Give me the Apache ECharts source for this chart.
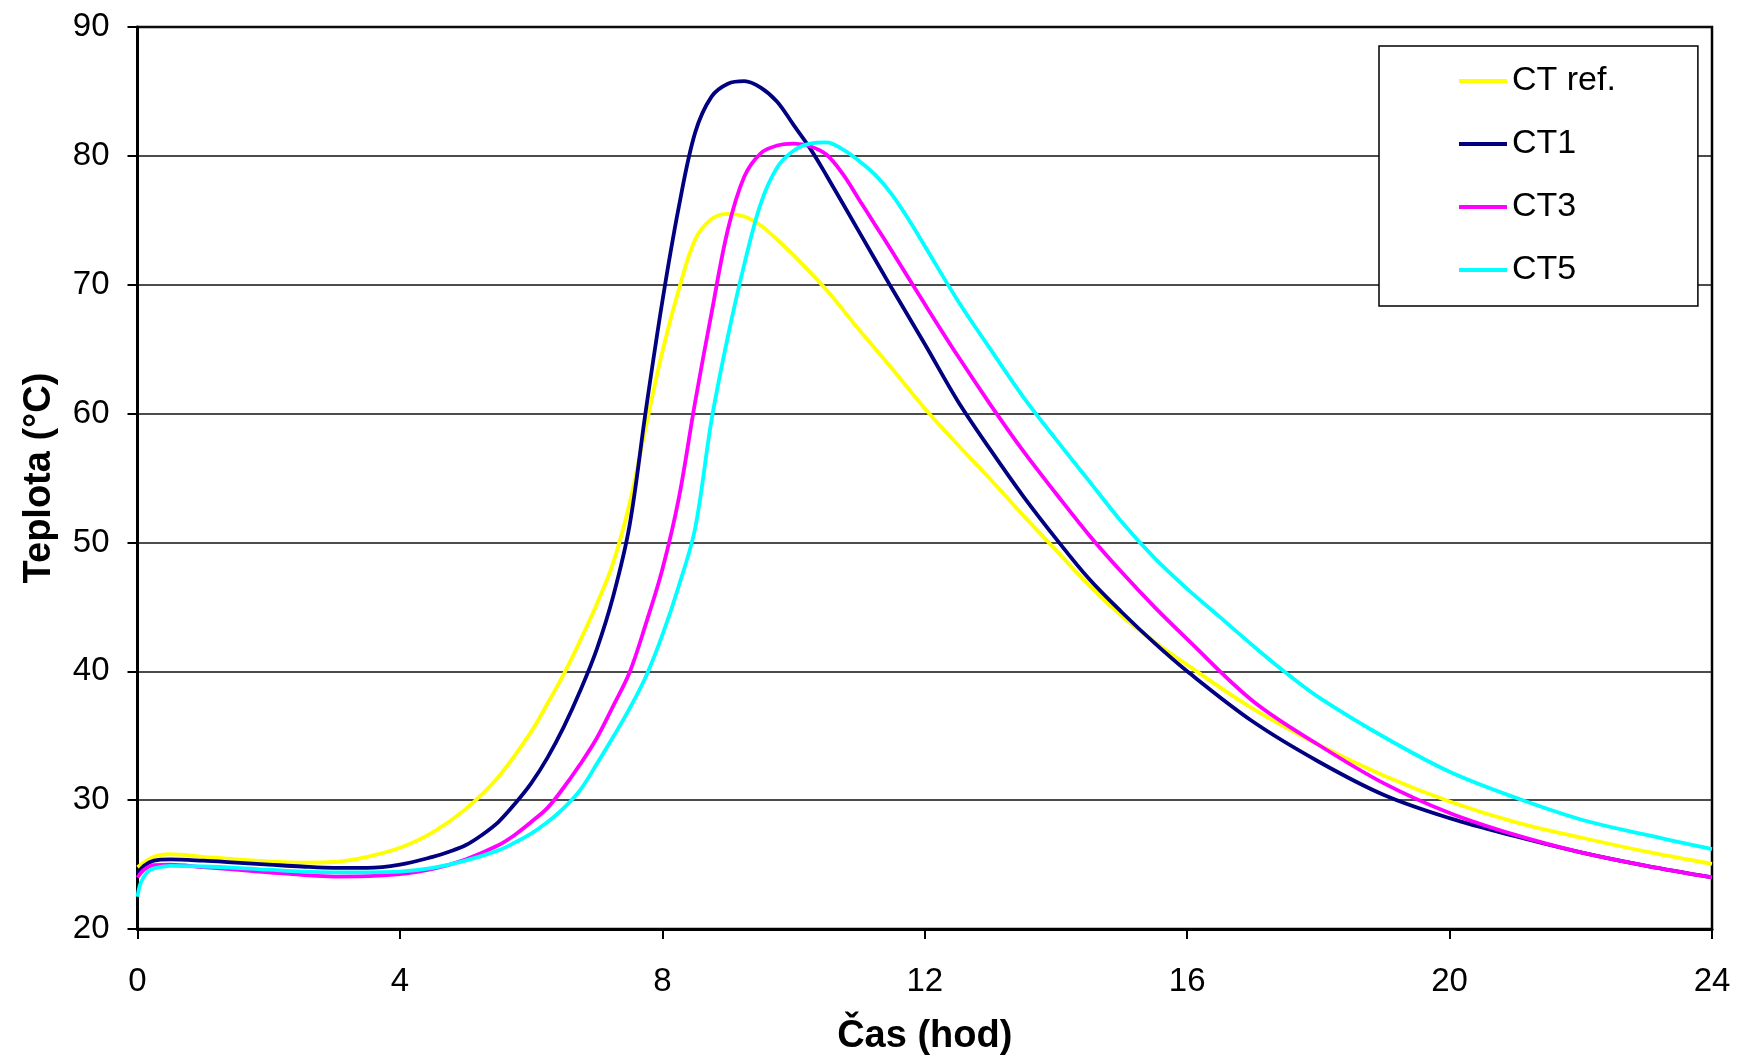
<!DOCTYPE html>
<html>
<head>
<meta charset="utf-8">
<script src="https://cdn.jsdelivr.net/npm/echarts@6/dist/echarts.min.js"></script>
<style>
html,body{margin:0;padding:0;background:#fff;}
#chart{width:1740px;height:1061px;}
</style>
</head>
<body>
<div id="chart"></div>
<script>
// Categories / series names
const seriesNames = ['CT ref.', 'CT1', 'CT3', 'CT5'];
const xTicks = [0, 4, 8, 12, 16, 20, 24];
const yTicks = [20, 30, 40, 50, 60, 70, 80, 90];

// CT ref. (yellow)
const ctRefTime = [0, 0.25, 0.5, 1, 1.5, 2, 2.5, 3, 3.5, 4, 4.5, 5, 5.5, 6, 6.25, 6.5, 6.75, 7, 7.25, 7.5, 7.75, 8, 8.25, 8.5, 8.75, 9, 9.25, 9.5, 9.75, 10, 10.5, 11, 11.5, 12, 12.5, 13, 13.5, 14, 14.5, 15, 15.5, 16, 17, 18, 19, 20, 21, 22, 23, 24];
const ctRefTemp = [24.8, 25.6, 25.8, 25.6, 25.4, 25.25, 25.15, 25.2, 25.6, 26.3, 27.5, 29.3, 31.8, 35.3, 37.5, 39.8, 42.4, 45.2, 48.4, 53.0, 59.0, 64.8, 69.6, 73.5, 75.1, 75.5, 75.3, 74.6, 73.5, 72.3, 69.6, 66.5, 63.5, 60.4, 57.6, 54.9, 52.1, 49.4, 46.7, 44.3, 42.3, 40.5, 37.1, 34.3, 31.9, 29.9, 28.3, 27.1, 26.0, 25.05];

// CT1 (navy)
const ct1Time = [0, 0.1, 0.25, 0.5, 1, 1.5, 2, 2.5, 3, 3.5, 4, 4.5, 4.75, 5, 5.25, 5.5, 5.75, 6, 6.25, 6.5, 6.75, 7, 7.25, 7.5, 7.75, 8, 8.25, 8.5, 8.75, 9, 9.25, 9.5, 9.75, 10, 10.25, 10.5, 11, 11.5, 12, 12.5, 13, 13.5, 14, 14.5, 15, 15.5, 16, 17, 18, 19, 20, 21, 22, 23, 24];
const ct1Temp = [24.3, 24.9, 25.3, 25.4, 25.3, 25.15, 25.0, 24.85, 24.75, 24.75, 25.0, 25.6, 26.0, 26.5, 27.3, 28.3, 29.7, 31.3, 33.3, 35.7, 38.5, 41.7, 45.8, 51.3, 60.3, 68.7, 76.0, 81.8, 84.6, 85.6, 85.8, 85.3, 84.2, 82.4, 80.6, 78.5, 74.1, 69.7, 65.4, 61.0, 57.2, 53.6, 50.3, 47.2, 44.6, 42.2, 40.0, 36.1, 33.0, 30.4, 28.6, 27.2, 25.95, 24.9, 24.0];

// CT3 (magenta)
const ct3Time = [0, 0.1, 0.25, 0.5, 1, 1.5, 2, 2.5, 3, 3.5, 4, 4.5, 5, 5.5, 5.75, 6, 6.25, 6.5, 6.75, 7, 7.25, 7.5, 7.75, 8, 8.25, 8.5, 8.75, 9, 9.25, 9.5, 9.75, 10, 10.25, 10.5, 10.75, 11, 11.25, 11.5, 12, 12.5, 13, 13.5, 14, 14.5, 15, 15.5, 16, 17, 18, 19, 20, 21, 22, 23, 24];
const ct3Temp = [24.0, 24.6, 24.95, 25.0, 24.8, 24.6, 24.4, 24.2, 24.07, 24.1, 24.25, 24.66, 25.4, 26.5, 27.3, 28.3, 29.4, 31.0, 32.8, 34.8, 37.3, 39.9, 43.7, 47.9, 53.4, 60.9, 67.8, 74.3, 78.4, 80.2, 80.8, 80.95, 80.75, 80.1, 78.6, 76.6, 74.6, 72.6, 68.5, 64.5, 60.7, 57.1, 53.8, 50.6, 47.7, 45.0, 42.5, 37.7, 34.3, 31.3, 29.0, 27.3, 25.95, 24.9, 24.0];

// CT5 (cyan)
const ct5Time = [0, 0.05, 0.15, 0.25, 0.5, 1, 1.5, 2, 2.5, 3, 3.5, 4, 4.5, 5, 5.5, 5.75, 6, 6.25, 6.5, 6.75, 7, 7.25, 7.5, 7.75, 8, 8.25, 8.5, 8.75, 9, 9.25, 9.5, 9.75, 10, 10.25, 10.5, 10.75, 11, 11.25, 11.5, 11.75, 12, 12.5, 13, 13.5, 14, 14.5, 15, 15.5, 16, 16.5, 17, 17.5, 18, 19, 20, 21, 22, 23, 24];
const ct5Temp = [22.5, 23.6, 24.4, 24.7, 24.9, 24.85, 24.75, 24.6, 24.45, 24.4, 24.4, 24.45, 24.74, 25.3, 26.1, 26.7, 27.4, 28.3, 29.4, 30.8, 32.8, 34.9, 37.1, 39.6, 42.8, 46.6, 51.1, 59.5, 66.0, 71.6, 76.3, 79.1, 80.4, 80.95, 81.05, 80.5, 79.6, 78.5, 77.0, 75.1, 73.0, 68.8, 65.0, 61.3, 58.0, 54.8, 51.6, 48.8, 46.4, 44.2, 42.0, 39.9, 38.0, 34.9, 32.2, 30.2, 28.5, 27.3, 26.2];

const seriesColors = ['#FFFF00', '#000080', '#FF00FF', '#00FFFF'];

function pairs(ts, vs) { return ts.map((t, i) => [t, vs[i]]); }
const allData = [
  pairs(ctRefTime, ctRefTemp),
  pairs(ct1Time, ct1Temp),
  pairs(ct3Time, ct3Temp),
  pairs(ct5Time, ct5Temp)
];

const FONT = '"Liberation Sans", Arial, sans-serif';
const chart = echarts.init(document.getElementById('chart'), null, {renderer: 'canvas'});
chart.setOption({
  animation: false,
  backgroundColor: '#ffffff',
  grid: {
    left: 137.5, right: 28, top: 27, bottom: 129,
    show: true, borderColor: '#000', borderWidth: 2.5, backgroundColor: 'transparent'
  },
  legend: {
    orient: 'vertical',
    left: 1379, top: 46,
    padding: [18, 82, 19, 80],
    itemGap: 29,
    itemWidth: 48, itemHeight: 4,
    icon: 'rect',
    borderColor: '#000', borderWidth: 1.5,
    backgroundColor: '#fff',
    textStyle: {fontFamily: FONT, fontSize: 34, color: '#000', padding: [0, 0, 0, 0]},
    data: seriesNames
  },
  xAxis: {
    type: 'value', min: 0, max: 24, interval: 4,
    name: 'Čas (hod)', nameLocation: 'middle', nameGap: 89,
    nameTextStyle: {fontFamily: FONT, fontSize: 38, fontWeight: 'bold', color: '#000'},
    axisLine: {show: true, onZero: false, lineStyle: {color: '#000', width: 3}},
    axisTick: {show: true, length: 10, lineStyle: {color: '#000', width: 2}},
    axisLabel: {fontFamily: FONT, fontSize: 33, color: '#000', margin: 36,
      formatter: v => xTicks.includes(v) ? String(v) : ''},
    splitLine: {show: false}
  },
  yAxis: {
    type: 'value', min: 20, max: 90, interval: 10,
    name: 'Teplota (°C)', nameLocation: 'middle', nameGap: 79,
    nameTextStyle: {fontFamily: FONT, fontSize: 38, fontWeight: 'bold', color: '#000'},
    axisLine: {show: true, onZero: false, lineStyle: {color: '#000', width: 3}},
    axisTick: {show: true, length: 10, lineStyle: {color: '#000', width: 2}},
    axisLabel: {fontFamily: FONT, fontSize: 33, color: '#000', margin: 28,
      formatter: v => yTicks.includes(v) ? String(v) : ''},
    splitLine: {show: true, lineStyle: {color: '#111', width: 1.5}}
  },
  series: seriesNames.map((name, i) => ({
    name: name,
    type: 'line',
    data: allData[i],
    symbol: 'none',
    showSymbol: false,
    smooth: 0.35,
    color: seriesColors[i],
    lineStyle: {color: seriesColors[i], width: 3.8},
    z: 2 + i
  }))
});
</script>
</body>
</html>
